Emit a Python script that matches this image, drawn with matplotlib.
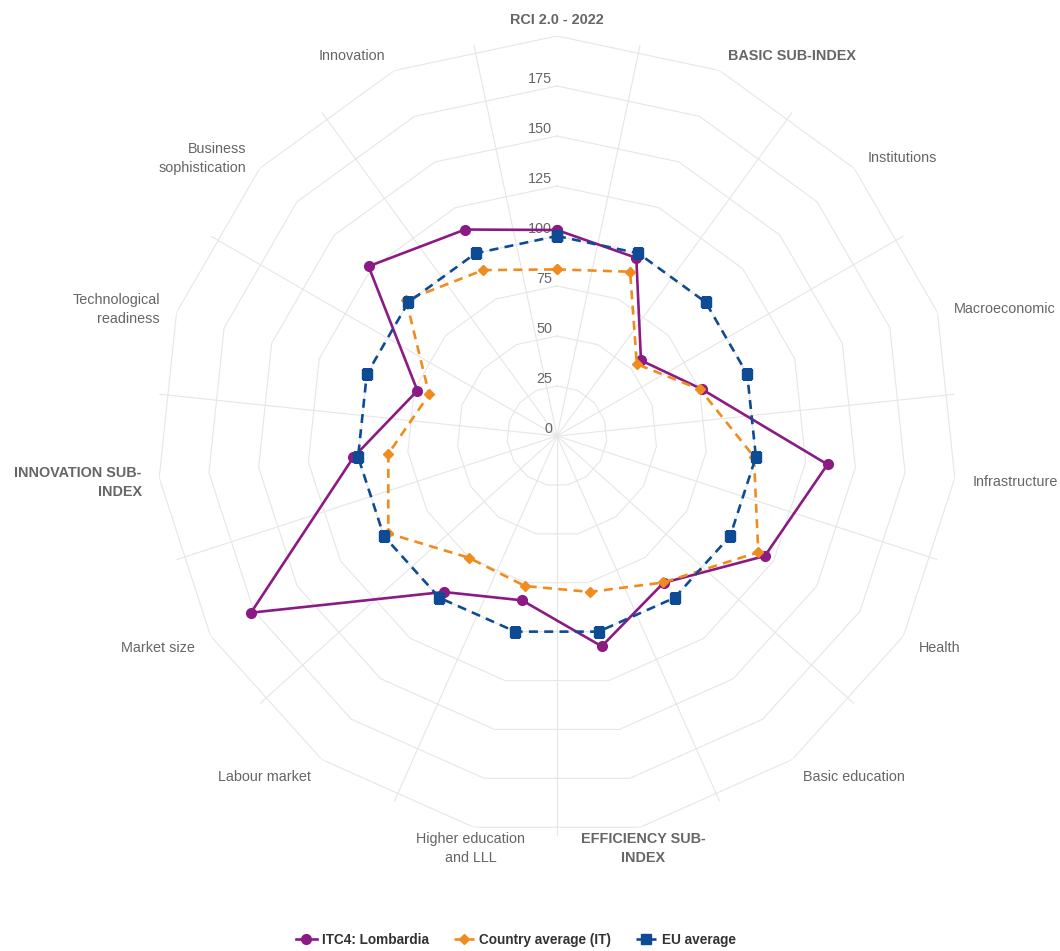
import numpy as np
import matplotlib.pyplot as plt

plt.rcParams['font.family'] = ['Liberation Sans', 'DejaVu Sans']

# axes of the radar, clockwise from the top
categories = ["RCI 2.0 - 2022", "BASIC SUB-INDEX", "Institutions", "Macroeconomic",
              "Infrastructure", "Health", "Basic education", "EFFICIENCY SUB-\nINDEX",
              "Higher education\nand LLL", "Labour market", "Market size",
              "INNOVATION SUB-\nINDEX", "Technological\nreadiness", "Business\nsophistication",
              "Innovation"]
is_sub_index = [True, True, False, False, False, False, False, True,
                False, False, False, True, False, False, False]

lombardia = [103, 97.5, 56.5, 76, 136, 120, 90.7, 107.5, 84, 96.4, 176.7, 102.4, 73.4, 126.8, 113]
country_it = [83.3, 89.9, 53.7, 75.3, 99, 116.2, 90.5, 79.7, 76.7, 75.2, 97.4, 84.8, 67.2, 101.5, 90.8]
eu_avg = [100, 100, 100, 100, 100, 100, 100, 100, 100, 100, 100, 100, 100, 100, 100]

series_names = ["ITC4: Lombardia", "Country average (IT)", "EU average"]
r_ticks = [0, 25, 50, 75, 100, 125, 150, 175]
r_max = 200

grid_col = '#e6e6e6'
label_col = '#666666'

fig = plt.figure(figsize=(10.6, 9.51), dpi=100)
ax = fig.add_axes([157 / 1060, 115 / 951, 800 / 1060, 800 / 951], projection='polar')
ax.set_theta_zero_location('N')
ax.set_theta_direction(-1)
ax.set_ylim(0, r_max)
ax.set_xticks([])
ax.set_yticks([])
ax.grid(False)
ax.spines['polar'].set_visible(False)
ax.patch.set_visible(False)

n = len(categories)
angles = np.deg2rad(np.arange(n) * 360.0 / n)
closed = np.append(angles, angles[0])

# polygon grid rings and spokes placed between categories
for level in r_ticks[1:] + [r_max]:
    ax.plot(closed, [level] * (n + 1), color=grid_col, lw=0.8, zorder=1)
for a in angles + np.pi / n:
    ax.plot([a, a], [0, r_max], color=grid_col, lw=0.8, zorder=1)

for level in r_ticks:
    ax.annotate(str(level), xy=(0, level), xytext=(-3.6, 5), textcoords='offset points',
                ha='right', va='center', fontsize=10.4, color=label_col, zorder=2)

for a, name, bold in zip(angles, categories, is_sub_index):
    s, c = np.sin(a), np.cos(a)
    d = 10.8
    if abs(s) < 0.25:
        ha, gap = 'center', 0
    elif s > 0:
        ha, gap = 'left', 1.8
    else:
        ha, gap = 'right', -1.8
    dy = -(2.5 - 3.5 * c) * 0.72 if c > -0.9 else -4.5
    ax.annotate(name, xy=(a, r_max), xytext=(d * s + gap, d * c + dy),
                textcoords='offset points', ha=ha, va='center', fontsize=10.4,
                color=label_col, fontweight='bold' if bold else 'normal',
                linespacing=1.45, annotation_clip=False)

def close(v):
    return list(v) + [v[0]]

l1, = ax.plot(closed, close(lombardia), color='#8b1a84', lw=1.9, marker='o', ms=7,
              zorder=3, label=series_names[0])
l2, = ax.plot(closed, close(country_it), color='#f08c1e', lw=1.9, ls=(0, (3.4, 2.4)),
              marker='D', ms=5.5, zorder=4, label=series_names[1])
l3, = ax.plot(closed, close(eu_avg), color='#0d4b94', lw=1.9, ls=(0, (3.4, 2.4)),
              marker='s', ms=6.5, zorder=5, label=series_names[2])

leg = fig.legend(handles=[l1, l2, l3], loc='center', bbox_to_anchor=(516 / 1060, 1 - 940 / 951),
                 ncol=3, frameon=False, prop={'weight': 'bold', 'size': 9.8},
                 handlelength=1.5, handletextpad=0.4, columnspacing=1.8)
for t in leg.get_texts():
    t.set_color('#333333')

plt.savefig('out.png', dpi=100)
